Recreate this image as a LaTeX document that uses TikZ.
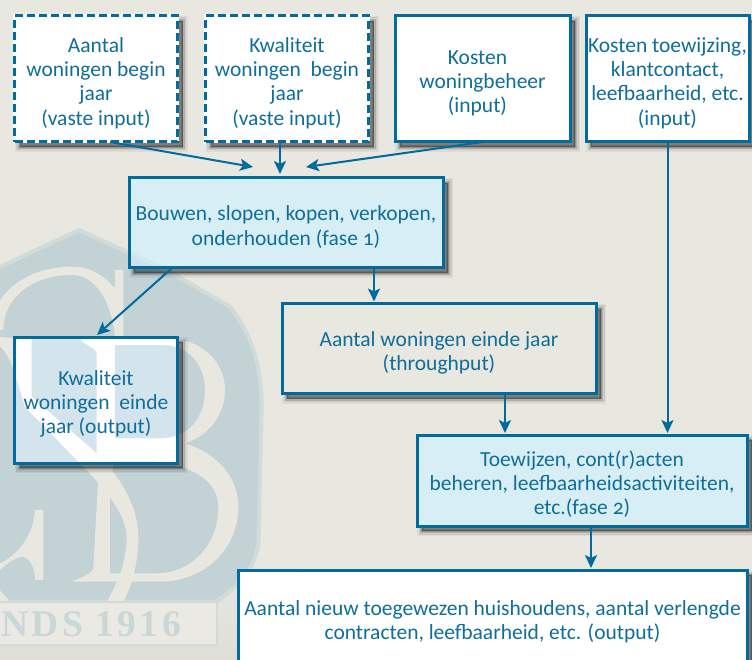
\documentclass[tikz,border=0pt]{standalone}
\usepackage{fontspec}
\setmainfont[Numbers=OldStyle]{Carlito}
\newfontfamily\wmfont[LetterSpace=9]{Liberation Serif}
\usetikzlibrary{arrows.meta,backgrounds}
\newcommand\tp{\rule{0pt}{23pt}}
\newcommand\ks{\hspace*{10pt}}
\definecolor{ink}{HTML}{006B9C}
\definecolor{txt}{HTML}{0F6E9B}
\definecolor{paper}{HTML}{E8E7E0}
\definecolor{paperb}{HTML}{DFDED7}
\definecolor{hexc}{HTML}{C2D2D5}
\definecolor{hexe}{HTML}{D0DBDA}
\definecolor{fase}{HTML}{D8EEF5}
\definecolor{bannerc}{HTML}{EAE9E3}
\definecolor{bannert}{HTML}{C8D7D8}
\definecolor{hexk}{HTML}{D3E4EC}
\definecolor{hexb}{HTML}{CDE4EC}
\definecolor{hexbe}{HTML}{D2E8EF}
\newcommand\wmshapes[3]{%
\begin{scope}[x=0.33333pt,y=-0.33333pt,shift={(0pt,-220pt)}]
 \fill[#1,draw=#3,line width=4pt,line join=round] (-40,160) -- (237,30) -- (500,150) -- (690,260)
   .. controls (760,350) and (785,450) .. (785,560) -- (775,970) .. controls (765,1050) and (710,1100) .. (650,1145) -- (-40,1145) -- cycle;
 % top ring and bar
 \fill[#2] (-30,330) .. controls (-20,210) and (90,140) .. (215,140) .. controls (270,140) and (310,165) .. (345,205)
   -- (345,150) -- (370,150) -- (370,350) -- (345,350) .. controls (335,250) and (290,165) .. (215,165)
   .. controls (100,165) and (10,230) .. (10,330) -- cycle;
 % B with stem
 \fill[#2,even odd rule] (240,355) -- (500,355) .. controls (610,355) and (675,430) .. (675,510)
   .. controls (675,590) and (620,650) .. (555,670) .. controls (650,700) and (715,770) .. (715,860)
   .. controls (715,990) and (610,1085) .. (480,1085) -- (215,1085) .. controls (250,1070) and (280,1060) .. (280,1040)
   -- (295,770) -- (290,700) -- (290,400) .. controls (285,380) and (250,375) .. (240,355) -- cycle
   (345,375) -- (490,375) .. controls (570,375) and (615,440) .. (615,510) .. controls (615,590) and (570,650) .. (490,655) -- (345,655) -- cycle
   (340,725) -- (470,725) .. controls (590,740) and (655,790) .. (655,860) .. controls (655,980) and (570,1060) .. (470,1060) -- (330,1060) -- (330,830) -- cycle;
 % S stroke
 \fill[#2] (-10,350) -- (0,380) .. controls (30,400) and (50,480) .. (75,560) -- (235,725)
   .. controls (300,790) and (380,880) .. (380,950) .. controls (380,1040) and (340,1110) .. (320,1145)
   -- (370,1145) .. controls (400,1090) and (415,1020) .. (415,950) .. controls (415,850) and (350,760) .. (290,700)
   -- (95,530) -- (95,355) -- (50,355) -- cycle;
 % lower C
 \fill[#2] (-10,1060) .. controls (20,1030) and (50,1010) .. (70,1010) .. controls (95,1020) and (105,1050) .. (105,1080)
   -- (130,1080) -- (130,870) -- (105,870) .. controls (100,950) and (50,1010) .. (-10,1035) -- cycle;
 \fill[#2] (-10,1100) -- (30,1145) -- (-10,1145) -- cycle;
\end{scope}}
\tikzset{
  softshadow/.style={
    preaction={fill=black,draw=black,solid,opacity=.05,line width=10pt,transform canvas={shift={(5pt,-5pt)}}},
    preaction={fill=black,draw=black,solid,opacity=.08,line width=7pt,transform canvas={shift={(5pt,-5pt)}}},
    preaction={fill=black,draw=black,solid,opacity=.12,line width=4pt,transform canvas={shift={(5pt,-5pt)}}},
    preaction={fill=black,draw=black,solid,opacity=.18,line width=1.5pt,transform canvas={shift={(5pt,-5pt)}}}},
  box/.style={draw=ink,line width=3pt,rectangle,inner sep=0pt,outer sep=0pt,text=txt,align=center,
    font=\fontsize{21.5}{24.2}\selectfont},
  whitebox/.style={box,fill=white},
  dashbox/.style={box,fill=white,preaction={draw=white,solid},dash pattern=on 8pt off 4pt},
  conn/.style={draw=ink,line width=2pt,-{Stealth[length=13pt,width=12pt,inset=3pt]}}
}
\begin{document}
\begin{tikzpicture}[x=1pt,y=-1pt]
\useasboundingbox (0,0) rectangle (752,660);
\clip (0,0) rectangle (752,660);
\node[dashbox,minimum width=163pt,minimum height=126pt] (aantal) at (96,79) {\tp Aantal\\woningen begin\\jaar\\(vaste input)};
\node[dashbox,minimum width=163pt,minimum height=126pt] (kwal) at (287,79) {\tp Kwaliteit\\woningen~ begin\\jaar\\(vaste input)};
\node[whitebox,minimum width=175pt,minimum height=126pt] (kosten) at (482.5,79) {\tp Kosten\ks\\woningbeheer\ks\\(input)\ks};
\node[whitebox,minimum width=163pt,minimum height=126pt] (toew) at (667.5,79) {\tp Kosten toewijzing,\\klantcontact,\\leefbaarheid, etc.\\(input)};
\node[box,minimum width=314pt,minimum height=90pt] (bouwen) at (286,223) {\tp Bouwen, slopen, kopen, verkopen,\\onderhouden (fase 1)};
\node[box,fill=paper,minimum width=314pt,minimum height=90pt] (thru) at (439,348.5) {\tp Aantal woningen einde jaar\\(throughput)};
\node[box,minimum width=163pt,minimum height=126pt] (kwout) at (96,400) {\tp Kwaliteit\\woningen~ einde\\jaar (output)};
\node[box,fill=fase,minimum width=330pt,minimum height=91pt] (fase2) at (582,480.5) {\tp Toewijzen, cont(r)acten\\beheren, leefbaarheidsactiviteiten,\\etc.(fase 2)};
\node[whitebox,minimum width=509pt,minimum height=96pt] (eind) at (492.5,618) {\tp Aantal nieuw toegewezen huishoudens, aantal verlengde\\contracten, leefbaarheid, etc. (output)};
\coordinate (inA) at (253,167);
\coordinate (inK) at (306,167);
\coordinate (inM) at (280,174);
\draw[conn] ([xshift=14pt]aantal.south) -- (inA);
\draw[conn] ([xshift=-7pt]kwal.south) -- (inM);
\draw[conn] (kosten.south) -- (inK);
\draw[conn] ([xshift=-114pt]bouwen.south) -- ([xshift=1pt,yshift=2pt]kwout.north);
\draw[conn] ([xshift=88pt]bouwen.south) -- ([xshift=-65pt,yshift=2pt]thru.north);
\draw[conn] ([xshift=66pt]thru.south) -- ([xshift=-77pt,yshift=2pt]fase2.north);
\draw[conn] (toew.south) -- ([xshift=85.5pt,yshift=2pt]fase2.north);
\draw[conn] ([xshift=9pt]fase2.south) -- ([xshift=98.5pt,yshift=2pt]eind.north);
\begin{scope}[on background layer]
  \fill[paper] (0,0) rectangle (752,660);
  \shade[top color=paper,bottom color=paperb] (0,560) rectangle (300,660);
  \wmshapes{hexc}{paper}{hexe}
  \fill[bannerc,draw=hexe,line width=1.5pt] (-5,602) rectangle (217,645);
  \node[anchor=east,inner sep=0pt,text=bannert,font=\wmfont\bfseries\fontsize{37.5}{37.5}\selectfont] (banner) at (181,624) {NDS 1916};
  \foreach \n in {aantal,kwal,kosten,toew,bouwen,thru,kwout,fase2,eind}
    \path[softshadow] (\n.south west) rectangle (\n.north east);
  \begin{scope}
    \clip (kwout.south west) rectangle (kwout.north east);
    \fill[white] (kwout.south west) rectangle (kwout.north east);
    \wmshapes{hexk}{white}{hexk}
  \end{scope}
  \begin{scope}
    \clip (bouwen.south west) rectangle (bouwen.north east);
    \fill[fase] (bouwen.south west) rectangle (bouwen.north east);
    \wmshapes{hexb}{fase}{hexbe}
  \end{scope}
\end{scope}
\end{tikzpicture}
\end{document}
